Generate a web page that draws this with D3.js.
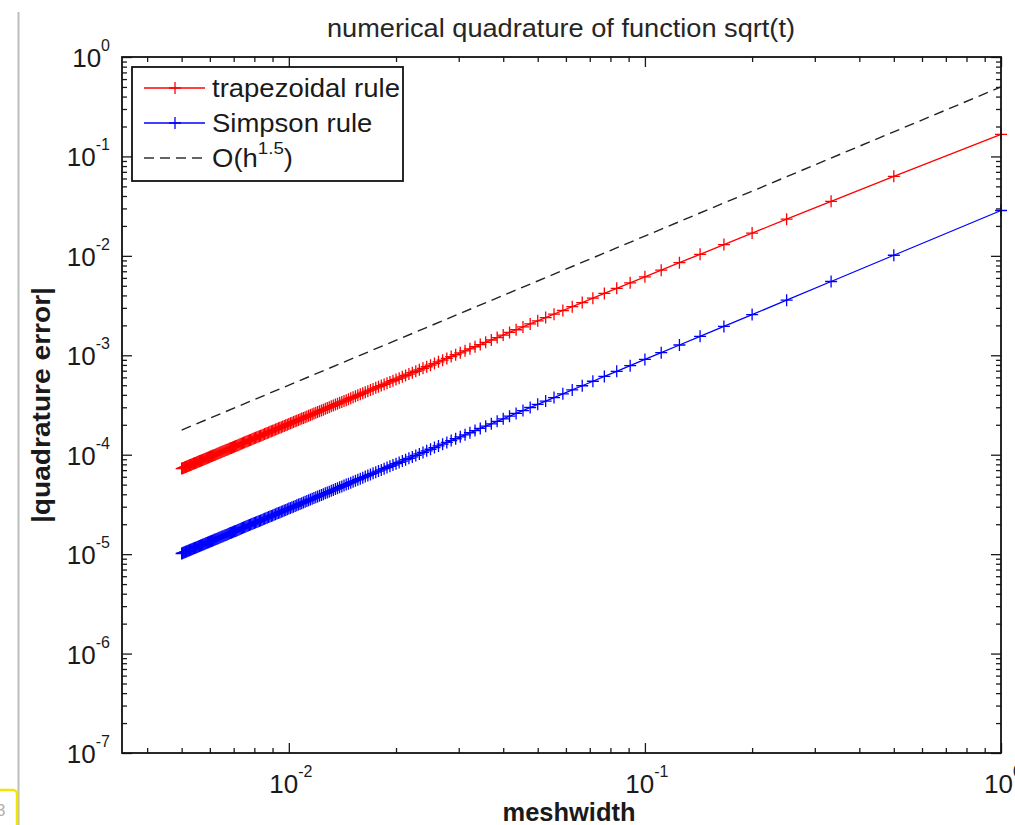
<!DOCTYPE html>
<html>
<head>
<meta charset="utf-8">
<script src="https://cdn.jsdelivr.net/npm/d3@7"></script>
<style>
html,body{margin:0;padding:0;background:#fff;}
svg{display:block;font-family:"Liberation Sans",Arial,Helvetica,sans-serif;}
</style>
</head>
<body>
<svg id="chart" width="1015" height="825"></svg>
<script>
// ---------------- DATA ----------------
const meshwidth = [1,0.5,0.33333,0.25,0.2,0.16667,0.14286,0.125,0.11111,0.1,
0.090909,0.083333,0.076923,0.071429,0.066667,0.0625,0.058824,0.055556,0.052632,0.05,
0.047619,0.045455,0.043478,0.041667,0.04,0.038462,0.037037,0.035714,0.034483,0.033333,
0.032258,0.03125,0.030303,0.029412,0.028571,0.027778,0.027027,0.026316,0.025641,0.025,
0.02439,0.02381,0.023256,0.022727,0.022222,0.021739,0.021277,0.020833,0.020408,0.02,
0.019608,0.019231,0.018868,0.018519,0.018182,0.017857,0.017544,0.017241,0.016949,0.016667,
0.016393,0.016129,0.015873,0.015625,0.015385,0.015152,0.014925,0.014706,0.014493,0.014286,
0.014085,0.013889,0.013699,0.013514,0.013333,0.013158,0.012987,0.012821,0.012658,0.0125,
0.012346,0.012195,0.012048,0.011905,0.011765,0.011628,0.011494,0.011364,0.011236,0.011111,
0.010989,0.01087,0.010753,0.010638,0.010526,0.010417,0.010309,0.010204,0.010101,0.01,
0.009901,0.0098039,0.0097087,0.0096154,0.0095238,0.009434,0.0093458,0.0092593,0.0091743,0.0090909,
0.009009,0.0089286,0.0088496,0.0087719,0.0086957,0.0086207,0.008547,0.0084746,0.0084034,0.0083333,
0.0082645,0.0081967,0.0081301,0.0080645,0.008,0.0079365,0.007874,0.0078125,0.0077519,0.0076923,
0.0076336,0.0075758,0.0075188,0.0074627,0.0074074,0.0073529,0.0072993,0.0072464,0.0071942,0.0071429,
0.0070922,0.0070423,0.006993,0.0069444,0.0068966,0.0068493,0.0068027,0.0067568,0.0067114,0.0066667,
0.0066225,0.0065789,0.0065359,0.0064935,0.0064516,0.0064103,0.0063694,0.0063291,0.0062893,0.00625,
0.0062112,0.0061728,0.006135,0.0060976,0.0060606,0.0060241,0.005988,0.0059524,0.0059172,0.0058824,
0.005848,0.005814,0.0057803,0.0057471,0.0057143,0.0056818,0.0056497,0.005618,0.0055866,0.0055556,
0.0055249,0.0054945,0.0054645,0.0054348,0.0054054,0.0053763,0.0053476,0.0053191,0.005291,0.0052632,
0.0052356,0.0052083,0.0051813,0.0051546,0.0051282,0.005102,0.0050761,0.0050505,0.0050251,0.005];

const trapezoidalError = [1.667e-1,6.311e-2,3.538e-2,2.338e-2,1.693e-2,1.299e-2,1.037e-2,8.536e-3,7.185e-3,6.157e-3,
5.354e-3,4.712e-3,4.189e-3,3.756e-3,3.393e-3,3.085e-3,2.822e-3,2.594e-3,2.395e-3,2.220e-3,
2.066e-3,1.929e-3,1.806e-3,1.696e-3,1.596e-3,1.507e-3,1.425e-3,1.350e-3,1.282e-3,1.219e-3,
1.161e-3,1.108e-3,1.058e-3,1.013e-3,9.700e-4,9.303e-4,8.932e-4,8.586e-4,8.262e-4,7.957e-4,
7.671e-4,7.401e-4,7.147e-4,6.908e-4,6.681e-4,6.467e-4,6.263e-4,6.070e-4,5.887e-4,5.713e-4,
5.548e-4,5.390e-4,5.239e-4,5.096e-4,4.959e-4,4.828e-4,4.702e-4,4.583e-4,4.468e-4,4.357e-4,
4.252e-4,4.150e-4,4.052e-4,3.958e-4,3.868e-4,3.781e-4,3.698e-4,3.617e-4,3.539e-4,3.465e-4,
3.392e-4,3.322e-4,3.255e-4,3.190e-4,3.127e-4,3.065e-4,3.006e-4,2.949e-4,2.894e-4,2.840e-4,
2.788e-4,2.738e-4,2.689e-4,2.641e-4,2.595e-4,2.550e-4,2.507e-4,2.464e-4,2.423e-4,2.383e-4,
2.345e-4,2.307e-4,2.270e-4,2.234e-4,2.199e-4,2.165e-4,2.132e-4,2.100e-4,2.068e-4,2.037e-4,
2.007e-4,1.978e-4,1.949e-4,1.922e-4,1.894e-4,1.868e-4,1.842e-4,1.816e-4,1.792e-4,1.767e-4,
1.744e-4,1.721e-4,1.698e-4,1.676e-4,1.654e-4,1.633e-4,1.612e-4,1.592e-4,1.572e-4,1.553e-4,
1.533e-4,1.515e-4,1.496e-4,1.478e-4,1.461e-4,1.444e-4,1.427e-4,1.410e-4,1.394e-4,1.378e-4,
1.362e-4,1.347e-4,1.332e-4,1.317e-4,1.302e-4,1.288e-4,1.274e-4,1.260e-4,1.247e-4,1.234e-4,
1.221e-4,1.208e-4,1.195e-4,1.183e-4,1.171e-4,1.159e-4,1.147e-4,1.136e-4,1.124e-4,1.113e-4,
1.102e-4,1.091e-4,1.081e-4,1.070e-4,1.060e-4,1.050e-4,1.040e-4,1.030e-4,1.020e-4,1.011e-4,
1.002e-4,9.924e-5,9.833e-5,9.743e-5,9.656e-5,9.569e-5,9.484e-5,9.399e-5,9.317e-5,9.235e-5,
9.154e-5,9.075e-5,8.997e-5,8.920e-5,8.844e-5,8.769e-5,8.695e-5,8.622e-5,8.551e-5,8.480e-5,
8.410e-5,8.341e-5,8.273e-5,8.206e-5,8.140e-5,8.075e-5,8.010e-5,7.947e-5,7.884e-5,7.822e-5,
7.761e-5,7.701e-5,7.642e-5,7.583e-5,7.525e-5,7.468e-5,7.411e-5,7.355e-5,7.300e-5,7.246e-5];

const simpsonError = [2.860e-2,1.014e-2,5.522e-3,3.587e-3,2.567e-3,1.953e-3,1.550e-3,1.269e-3,1.063e-3,9.077e-4,
7.868e-4,6.905e-4,6.124e-4,5.479e-4,4.941e-4,4.485e-4,4.095e-4,3.759e-4,3.466e-4,3.209e-4,
2.983e-4,2.782e-4,2.602e-4,2.441e-4,2.296e-4,2.165e-4,2.046e-4,1.937e-4,1.838e-4,1.747e-4,
1.663e-4,1.586e-4,1.514e-4,1.448e-4,1.386e-4,1.329e-4,1.275e-4,1.225e-4,1.179e-4,1.135e-4,
1.093e-4,1.055e-4,1.018e-4,9.835e-5,9.508e-5,9.200e-5,8.908e-5,8.631e-5,8.368e-5,8.118e-5,
7.881e-5,7.655e-5,7.439e-5,7.233e-5,7.037e-5,6.849e-5,6.670e-5,6.498e-5,6.334e-5,6.176e-5,
6.025e-5,5.880e-5,5.740e-5,5.606e-5,5.477e-5,5.353e-5,5.234e-5,5.119e-5,5.008e-5,4.901e-5,
4.798e-5,4.698e-5,4.602e-5,4.509e-5,4.419e-5,4.332e-5,4.248e-5,4.166e-5,4.088e-5,4.011e-5,
3.937e-5,3.865e-5,3.796e-5,3.728e-5,3.663e-5,3.599e-5,3.537e-5,3.477e-5,3.419e-5,3.362e-5,
3.307e-5,3.253e-5,3.200e-5,3.150e-5,3.100e-5,3.051e-5,3.005e-5,2.959e-5,2.914e-5,2.870e-5,
2.828e-5,2.786e-5,2.746e-5,2.706e-5,2.668e-5,2.630e-5,2.593e-5,2.557e-5,2.522e-5,2.488e-5,
2.454e-5,2.422e-5,2.390e-5,2.358e-5,2.327e-5,2.297e-5,2.268e-5,2.239e-5,2.211e-5,2.184e-5,
2.156e-5,2.130e-5,2.104e-5,2.079e-5,2.054e-5,2.029e-5,2.006e-5,1.982e-5,1.959e-5,1.936e-5,
1.914e-5,1.893e-5,1.871e-5,1.850e-5,1.830e-5,1.810e-5,1.790e-5,1.771e-5,1.751e-5,1.733e-5,
1.714e-5,1.696e-5,1.678e-5,1.661e-5,1.644e-5,1.627e-5,1.610e-5,1.594e-5,1.578e-5,1.562e-5,
1.547e-5,1.532e-5,1.517e-5,1.502e-5,1.487e-5,1.473e-5,1.459e-5,1.445e-5,1.432e-5,1.418e-5,
1.405e-5,1.392e-5,1.379e-5,1.367e-5,1.354e-5,1.342e-5,1.330e-5,1.318e-5,1.306e-5,1.295e-5,
1.284e-5,1.272e-5,1.261e-5,1.251e-5,1.240e-5,1.229e-5,1.219e-5,1.209e-5,1.199e-5,1.189e-5,
1.179e-5,1.169e-5,1.159e-5,1.150e-5,1.141e-5,1.132e-5,1.122e-5,1.114e-5,1.105e-5,1.096e-5,
1.087e-5,1.079e-5,1.071e-5,1.062e-5,1.054e-5,1.046e-5,1.038e-5,1.030e-5,1.022e-5,1.015e-5];

const referenceX = [0.005, 1];
const referenceY = [1.77e-4, 0.5];

const xTickExponents = [-2, -1, 0];
const yTickExponents = [0, -1, -2, -3, -4, -5, -6, -7];
const xDomain = [0.0034, 1];
const yDomain = [1e-7, 1];

const legendLabels = ["trapezoidal rule", "Simpson rule", "O(h", "1.5", ")"];
const titleText = "numerical quadrature of function sqrt(t)";
const xLabelText = "meshwidth";
const yLabelText = "|quadrature error|";

// ---------------- LAYOUT ----------------
const svg = d3.select("#chart");
const L = 122, R = 1001, T = 57, B = 753;
const x = d3.scaleLog().domain(xDomain).range([L, R]);
const y = d3.scaleLog().domain(yDomain).range([B, T]);
const ink = "#1a1a1a";

// window artefacts at the left
svg.append("line").attr("x1", 18.5).attr("x2", 18.5).attr("y1", 12).attr("y2", 825)
  .attr("stroke", "#bdbdbd").attr("stroke-width", 2);
svg.append("rect").attr("x", -10).attr("y", 790).attr("width", 27).attr("height", 45).attr("rx", 4)
  .attr("fill", "#fff").attr("stroke", "#f2e600").attr("stroke-width", 2.5);
svg.append("text").attr("x", -4).attr("y", 816).attr("font-size", 17).attr("fill", "#b0b0b0").text("3");

// minor/major tick values
function logTicks(domain) {
  const out = { major: [], minor: [] };
  const lo = Math.floor(Math.log10(domain[0])), hi = Math.ceil(Math.log10(domain[1]));
  for (let e = lo; e <= hi; e++) {
    for (let m = 1; m <= 9; m++) {
      const v = m * Math.pow(10, e);
      if (v < domain[0] * 0.9999 || v > domain[1] * 1.0001) continue;
      (m === 1 ? out.major : out.minor).push(v);
    }
  }
  return out;
}
const xt = logTicks(xDomain), yt = logTicks(yDomain);

const axisG = svg.append("g");
function addAxis(gen, transform, values, size) {
  const g = axisG.append("g").attr("transform", transform)
    .call(gen.tickValues(values).tickSize(size).tickFormat(""));
  g.select(".domain").remove();
  g.selectAll("line").attr("stroke", ink).attr("stroke-width", 1.3);
}
// inward ticks on all four sides
addAxis(d3.axisBottom(x), `translate(0,${B})`, xt.major, -10);
addAxis(d3.axisBottom(x), `translate(0,${B})`, xt.minor, -5);
addAxis(d3.axisTop(x), `translate(0,${T})`, xt.major, -10);
addAxis(d3.axisTop(x), `translate(0,${T})`, xt.minor, -5);
addAxis(d3.axisLeft(y), `translate(${L},0)`, yt.major, -10);
addAxis(d3.axisLeft(y), `translate(${L},0)`, yt.minor, -5);
addAxis(d3.axisRight(y), `translate(${R},0)`, yt.major, -10);
addAxis(d3.axisRight(y), `translate(${R},0)`, yt.minor, -5);

// data series
const plot = svg.append("g");
const line = d3.line().x((d, i) => x(meshwidth[i])).y(d => y(d));
const plus = "M-6,0H6M0,-6V6";
function series(vals, color) {
  plot.append("path").datum(vals).attr("d", line).attr("fill", "none")
    .attr("stroke", color).attr("stroke-width", 1.3);
  plot.append("g").selectAll("path").data(vals).join("path")
    .attr("transform", (d, i) => `translate(${x(meshwidth[i])},${y(d)})`)
    .attr("d", plus).attr("stroke", color).attr("stroke-width", 1.3).attr("fill", "none");
}
series(trapezoidalError, "#ff0000");
series(simpsonError, "#0000ff");
plot.append("path").datum(referenceY)
  .attr("d", d3.line().x((d, i) => x(referenceX[i])).y(d => y(d)))
  .attr("fill", "none").attr("stroke", "#222").attr("stroke-width", 1.4)
  .attr("stroke-dasharray", "10,6");

// plot box
svg.append("rect").attr("x", L).attr("y", T).attr("width", R - L).attr("height", B - T)
  .attr("fill", "none").attr("stroke", "#111").attr("stroke-width", 1.8);

// tick labels with superscripts
const lab = svg.append("g").attr("fill", ink);
xTickExponents.forEach(e => {
  const t = lab.append("text").attr("x", x(Math.pow(10, e)) + 2).attr("y", 793)
    .attr("text-anchor", "middle").attr("font-size", 26);
  t.append("tspan").text("10");
  t.append("tspan").attr("dy", -16).attr("font-size", 16).text(String(e));
});
yTickExponents.forEach(e => {
  const t = lab.append("text").attr("x", 110).attr("y", y(Math.pow(10, e)) + 10)
    .attr("text-anchor", "end").attr("font-size", 26);
  t.append("tspan").text("10");
  t.append("tspan").attr("dy", -16).attr("font-size", 16).text(String(e));
});

// title and axis labels
svg.append("text").attr("x", 561).attr("y", 37).attr("text-anchor", "middle")
  .attr("font-size", 25).attr("textLength", 468).attr("lengthAdjust", "spacingAndGlyphs")
  .attr("fill", "#262626").text(titleText);
svg.append("text").attr("x", 569).attr("y", 821).attr("text-anchor", "middle")
  .attr("font-size", 25).attr("font-weight", "bold").attr("textLength", 133)
  .attr("lengthAdjust", "spacingAndGlyphs").attr("fill", ink).text(xLabelText);
svg.append("text").attr("transform", `translate(50,${(T + B) / 2}) rotate(-90)`)
  .attr("text-anchor", "middle").attr("font-size", 25).attr("font-weight", "bold")
  .attr("textLength", 236).attr("lengthAdjust", "spacingAndGlyphs")
  .attr("fill", ink).text(yLabelText);

// legend
const lg = svg.append("g");
lg.append("rect").attr("x", 132).attr("y", 67).attr("width", 271).attr("height", 114)
  .attr("fill", "#fff").attr("stroke", "#111").attr("stroke-width", 1.8);
const rows = [88, 123, 158];
[["#ff0000", false], ["#0000ff", false], ["#333", true]].forEach(([c, dashed], i) => {
  lg.append("line").attr("x1", 144).attr("x2", 205).attr("y1", rows[i]).attr("y2", rows[i])
    .attr("stroke", c).attr("stroke-width", 1.4).attr("stroke-dasharray", dashed ? "10,6" : null);
  if (!dashed) lg.append("path").attr("transform", `translate(175,${rows[i]})`).attr("d", plus)
    .attr("stroke", c).attr("stroke-width", 1.3);
});
function legendText(i) {
  return lg.append("text").attr("transform", `translate(212,${rows[i] + 9}) scale(1.1,1)`)
    .attr("font-size", 25).attr("fill", ink);
}
legendText(0).text(legendLabels[0]);
legendText(1).text(legendLabels[1]);
const lt = legendText(2);
lt.append("tspan").text(legendLabels[2]);
lt.append("tspan").attr("dy", -13).attr("font-size", 17).text(legendLabels[3]);
lt.append("tspan").attr("dy", 13).text(legendLabels[4]);
</script>
</body>
</html>
